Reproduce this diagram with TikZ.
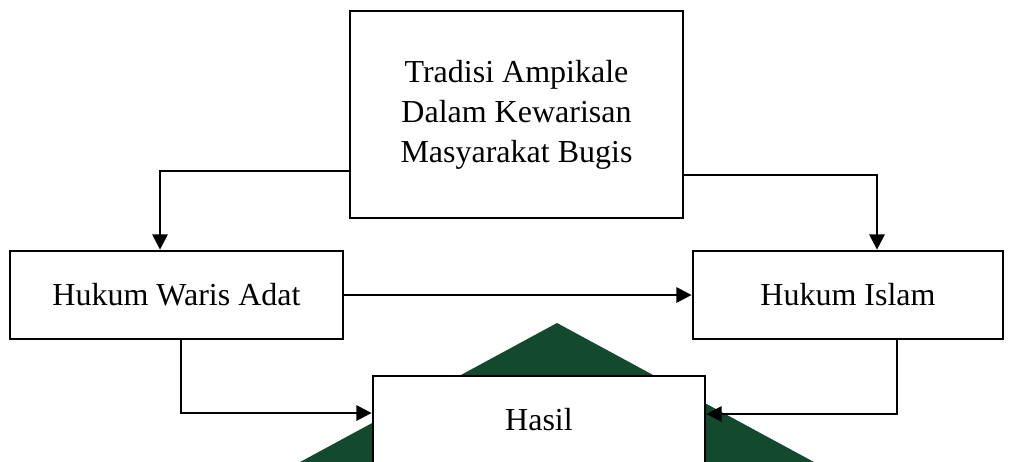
\documentclass[tikz,border=0pt]{standalone}
\usepackage{fontspec}
\setmainfont{Liberation Serif}
\usetikzlibrary{calc}
\usetikzlibrary{arrows.meta}
\definecolor{dgreen}{RGB}{19,74,47}

\begin{document}
\begin{tikzpicture}[x=0.75pt,y=-0.75pt,
    box/.style={draw,line width=2.1pt,fill=white,align=center,
      font=\fontsize{24}{30}\selectfont,inner sep=0pt},
    arr/.style={line width=1.8pt,-{Triangle[length=11.5pt,width=11.5pt]}}]
    \clip (0,0) rectangle (1013,461);
    \fill[dgreen] (557,323) -- (1069,600) -- (45,600) -- cycle;
    \node[box,minimum width=249.75pt,minimum height=155.25pt] (T) at (516.5,114.5)
      {Tradisi Ampikale\\Dalam Kewarisan\\Masyarakat Bugis};
    \node[box,minimum width=249.75pt,minimum height=66pt] (adat) at (176.5,295) {Hukum Waris Adat};
    \node[box,minimum width=232.5pt,minimum height=66pt] (islam) at (848,295) {Hukum Islam};
    \node[box,minimum width=249pt,minimum height=66pt] (hasil) at (539,420) {Hasil};
    % arrows
    \draw[arr] ($(T.west)+(0,56.5)$) -| ($(adat.north)+(-16.5,0)$);
    \draw[arr] ($(T.east)+(0,60.5)$) -| ($(islam.north)+(29,0)$);
    \draw[arr] (adat) -- (islam);
    \draw[arr] ($(adat.south)+(4.5,0)$) |- ($(hasil.west)+(0,-7)$);
    \draw[arr] ($(islam.south)+(49,0)$) |- ($(hasil.east)+(0,-6)$);
\end{tikzpicture}
\end{document}
